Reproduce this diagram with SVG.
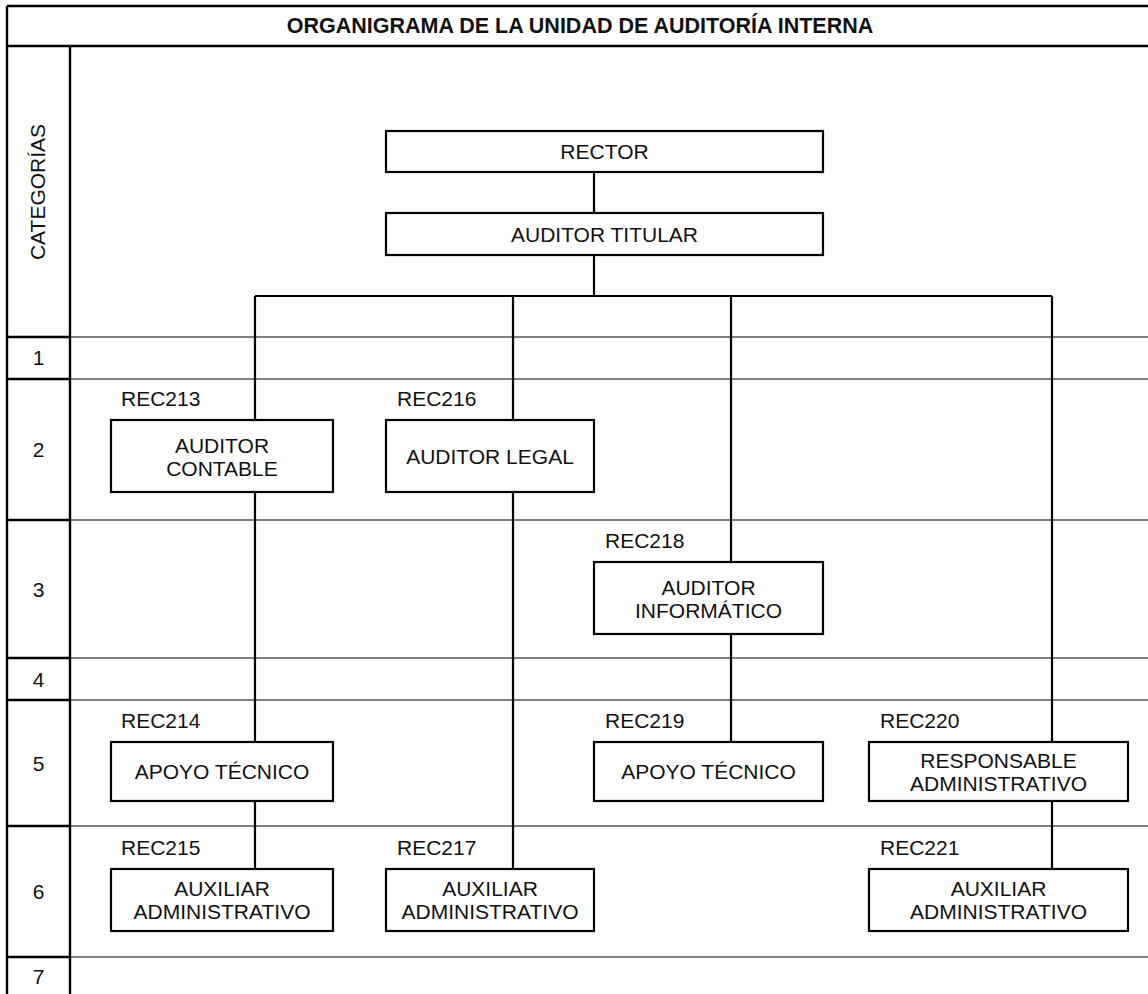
<svg xmlns="http://www.w3.org/2000/svg" width="1148" height="994" viewBox="0 0 1148 994">
<style>
text{font-family:"Liberation Sans",Arial,sans-serif;font-size:21px;fill:#111}
.c{text-anchor:middle}
.t{font-weight:bold;font-size:21.5px}
.box{fill:#fff;stroke:#000;stroke-width:2.2}
.frame{stroke:#000;stroke-width:2.4;fill:none}
.grid{stroke:#808080;stroke-width:2;fill:none}
.conn{stroke:#000;stroke-width:2.2;fill:none}
</style>
<rect width="1148" height="994" fill="#fff"/>
<g id="grid">
<path class="grid" d="M70 337H1148M70 379H1148M70 520H1148M70 658H1148M70 700H1148M70 826H1148M70 957H1148"/>
<path class="frame" d="M7 6H1148M7 46H1148M7 6V994M70 46V994M7 337H70M7 379H70M7 520H70M7 658H70M7 700H70M7 826H70M7 957H70"/>
<text class="c t" x="580" y="33">ORGANIGRAMA DE LA UNIDAD DE AUDITORÍA INTERNA</text>
<text class="c" transform="translate(45 192) rotate(-90)">CATEGORÍAS</text>
<text class="c" x="38.5" y="365">1</text>
<text class="c" x="38.5" y="457">2</text>
<text class="c" x="38.5" y="597">3</text>
<text class="c" x="38.5" y="687">4</text>
<text class="c" x="38.5" y="771">5</text>
<text class="c" x="38.5" y="899">6</text>
<text class="c" x="38.5" y="984">7</text>
</g>
<g id="connectors">
<path class="conn" d="M594 172V213M594 255V296M255 296H1052M255 296V420M255 492V742M255 801V869M513 296V420M513 492V869M731 296V562M731 634V742M1052 296V742M1052 801V869"/>
</g>
<g id="rector"><rect class="box" x="386" y="131" width="437" height="41"/><text class="c" x="604.5" y="159">RECTOR</text></g>
<g id="auditor-titular"><rect class="box" x="386" y="213" width="437" height="42"/><text class="c" x="604.5" y="241.5">AUDITOR TITULAR</text></g>
<g id="rec213"><text x="121" y="406">REC213</text><rect class="box" x="111" y="420" width="222" height="72"/><text class="c" x="222" y="453">AUDITOR</text><text class="c" x="222" y="476">CONTABLE</text></g>
<g id="rec216"><text x="397" y="406">REC216</text><rect class="box" x="386" y="420" width="208" height="72"/><text class="c" x="490" y="464">AUDITOR LEGAL</text></g>
<g id="rec218"><text x="605" y="548">REC218</text><rect class="box" x="594" y="562" width="229" height="72"/><text class="c" x="708.5" y="595">AUDITOR</text><text class="c" x="708.5" y="618">INFORMÁTICO</text></g>
<g id="rec214"><text x="121" y="728">REC214</text><rect class="box" x="111" y="742" width="222" height="59"/><text class="c" x="222" y="779">APOYO TÉCNICO</text></g>
<g id="rec219"><text x="605" y="728">REC219</text><rect class="box" x="594" y="742" width="229" height="59"/><text class="c" x="708.5" y="779">APOYO TÉCNICO</text></g>
<g id="rec220"><text x="880" y="728">REC220</text><rect class="box" x="869" y="742" width="259" height="59"/><text class="c" x="998.5" y="768">RESPONSABLE</text><text class="c" x="998.5" y="791">ADMINISTRATIVO</text></g>
<g id="rec215"><text x="121" y="855">REC215</text><rect class="box" x="111" y="869" width="222" height="62"/><text class="c" x="222" y="896">AUXILIAR</text><text class="c" x="222" y="919">ADMINISTRATIVO</text></g>
<g id="rec217"><text x="397" y="855">REC217</text><rect class="box" x="386" y="869" width="208" height="62"/><text class="c" x="490" y="896">AUXILIAR</text><text class="c" x="490" y="919">ADMINISTRATIVO</text></g>
<g id="rec221"><text x="880" y="855">REC221</text><rect class="box" x="869" y="869" width="259" height="62"/><text class="c" x="998.5" y="896">AUXILIAR</text><text class="c" x="998.5" y="919">ADMINISTRATIVO</text></g>
</svg>
